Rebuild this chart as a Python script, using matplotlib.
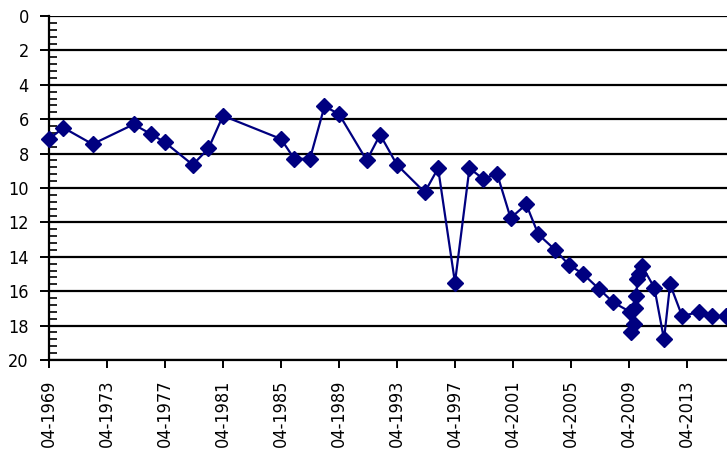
import pandas as pd
import matplotlib
matplotlib.use("Agg")
import matplotlib.pyplot as plt
from matplotlib.ticker import MultipleLocator

# observation months and values (axis is inverted)
dates = ["1969-04", "1970-04", "1972-04", "1975-02", "1976-04", "1977-04",
         "1979-03", "1980-04", "1981-04", "1985-04", "1986-03", "1987-04",
         "1988-04", "1989-04", "1991-03", "1992-02", "1993-04", "1995-03",
         "1996-02", "1997-04", "1998-04", "1999-03", "2000-03", "2001-02",
         "2002-03", "2003-01", "2004-03", "2005-02", "2006-02", "2007-03",
         "2008-03", "2009-05", "2009-06", "2009-08", "2009-09", "2009-10",
         "2009-11", "2009-12", "2010-03", "2011-01", "2011-09", "2012-02",
         "2012-12", "2014-02", "2015-01", "2015-12"]
values = [7.15, 6.5, 7.45, 6.3, 6.85, 7.35,
          8.65, 7.7, 5.8, 7.15, 8.3, 8.3,
          5.25, 5.7, 8.4, 6.9, 8.65, 10.25,
          8.85, 15.5, 8.85, 9.45, 9.2, 11.75,
          10.95, 12.7, 13.6, 14.45, 15.0, 15.85,
          16.65, 17.2, 18.4, 17.9, 17.0, 16.3,
          15.3, 15.0, 14.55, 15.8, 18.8, 15.6,
          17.45, 17.2, 17.45, 17.45]

tick_years = list(range(1969, 2014, 4))
tick_labels = [f"04-{y}" for y in tick_years]

x = pd.to_datetime(dates)
ticks = pd.to_datetime([f"{y}-04-01" for y in tick_years])

plt.rcParams["font.family"] = ["DejaVu Sans"]
plt.rcParams["font.stretch"] = "condensed"

fig = plt.figure(figsize=(7.27, 4.49), dpi=100)
ax = fig.add_axes([49 / 727, 1 - 360 / 449, 1 - 49 / 727, (360 - 16) / 449])

ax.plot(x, values, color="#000080", lw=1.6, marker="D", markersize=8,
        markeredgecolor="#000080", zorder=3, clip_on=False)

ax.set_ylim(20, 0)
ax.set_xlim(pd.Timestamp("1969-04-01"), pd.Timestamp("2016-01-05"))
ax.yaxis.set_major_locator(MultipleLocator(2))
ax.yaxis.set_minor_locator(MultipleLocator(0.4))
ax.set_xticks(ticks)
ax.set_xticklabels(tick_labels, rotation=90)

ax.grid(axis="y", which="major", color="black", lw=1.6)
ax.tick_params(axis="y", which="major", direction="out", length=6.5, width=1.4,
               labelsize=13, pad=8)
ax.tick_params(axis="y", which="minor", direction="in", length=6, width=1.2)
ax.tick_params(axis="x", which="major", direction="out", length=6, width=1.4,
               labelsize=13, pad=8)

for s in ["top", "right"]:
    ax.spines[s].set_visible(False)
for s in ["left", "bottom"]:
    ax.spines[s].set_linewidth(1.6)

plt.savefig("out.png", dpi=100)
